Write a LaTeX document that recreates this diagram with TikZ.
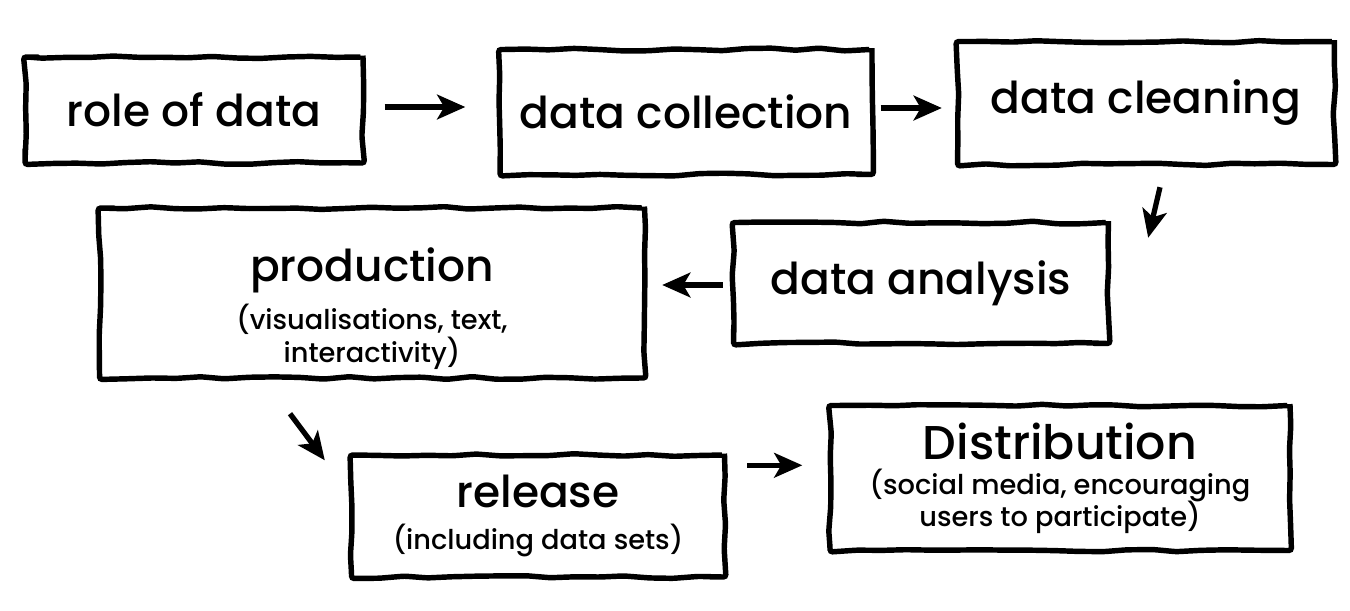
\documentclass[tikz,border=0pt]{standalone}
\usepackage{fontspec}
\setmainfont{Poppins}[UprightFont=* Medium]
\usetikzlibrary{arrows.meta,decorations.pathmorphing}
\newcommand{\subtxt}{\fontsize{15.5}{19}\selectfont}

\begin{document}
\begin{tikzpicture}[x=0.02cm,y=-0.02cm,
    box/.style={draw, line width=3.1pt, decorate,
        decoration={random steps,segment length=14pt,amplitude=0.8pt},
        rounded corners=1.5pt, align=center, inner sep=0pt,
        font=\fontsize{25}{19}\selectfont},
    arr/.style={line width=3pt, -{Stealth[length=16pt,width=14pt,inset=4pt]}}]

\pgfmathsetseed{7}
\useasboundingbox (0,0) rectangle (1350,610);

% top row
\node[box, minimum width=6.76cm, minimum height=2.12cm] (role) at (194,110) {role of data};
\node[box, minimum width=7.44cm, minimum height=2.5cm] (collection) at (686,112) {data collection};
\node[box, minimum width=7.54cm, minimum height=2.46cm] (cleaning) at (1146,103) {data cleaning};

% middle row
\node[box, minimum width=10.9cm, minimum height=3.4cm] (production) at (372,293)
    {\rule{0pt}{37pt}production\\[5pt]\subtxt (visualisations, text,\\\subtxt interactivity)};
\node[box, minimum width=7.5cm, minimum height=2.42cm] (analysis) at (921,283) {data analysis};

% bottom row
\node[box, minimum width=7.46cm, minimum height=2.44cm] (release) at (538,516)
    {release\\[5pt]\subtxt (including data sets)};
\node[box, minimum width=9.2cm, minimum height=2.9cm] (distribution) at (1060,478)
    {{\fontsize{27}{19}\selectfont Distribution}\\[1pt]\subtxt (social media, encouraging\\[-1pt]\subtxt users to participate)};

% arrows
\draw[arr, shorten <=0.38cm, shorten >=0.64cm] ([yshift=0.06cm]role.east) -- ([yshift=0.06cm]role.east -| collection.west);
\draw[arr, shorten <=0.12cm, shorten >=0.26cm] ([yshift=0.08cm]collection.east) -- ([yshift=0.08cm]collection.east -| cleaning.west);
\draw[arr] ([xshift=0.28cm,yshift=-0.4cm]cleaning.south) -- ([xshift=0.74cm,yshift=-0.36cm]analysis.north east);
\draw[arr, shorten <=0.16cm, shorten >=0.3cm] ([yshift=-0.04cm]analysis.west) -- ([yshift=-0.04cm]analysis.west -| production.east);
\draw[arr] ([xshift=-1.64cm,yshift=-0.66cm]production.south) -- ([xshift=-0.48cm,yshift=-0.16cm]release.north west);
\draw[arr, shorten <=0.4cm, shorten >=0.5cm] ([yshift=-0.26cm]release.north east) -- ([yshift=-0.26cm]release.north east -| distribution.west);

\end{tikzpicture}
\end{document}
